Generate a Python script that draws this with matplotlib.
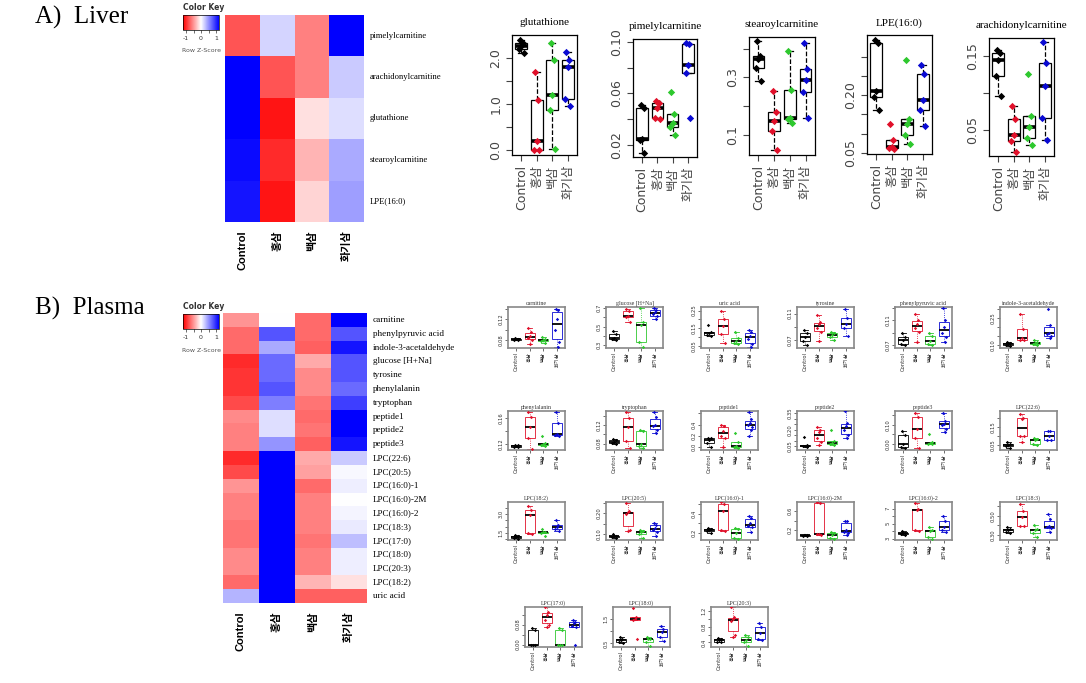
import numpy as np
import matplotlib.pyplot as plt
from matplotlib.colors import LinearSegmentedColormap, Normalize
from matplotlib.cm import ScalarMappable

plt.rcParams['font.family'] = ['DejaVu Sans', 'Noto Sans CJK KR']

W, H = 1086, 683

groups = ['Control', '홍삼', '백삼', '화기삼']
group_colors = ['black', '#e0102a', '#2ec82e', '#0a0ad2']

# heatmap z-scores (columns: Control, 홍삼, 백삼, 화기삼)
liver_rows = ['pimelylcarnitine', 'arachidonylcarnitine', 'glutathione',
              'stearoylcarnitine', 'LPE(16:0)']
liver_z = [[-0.80, 0.20, -0.60, 1.30],
           [1.30, -0.80, -0.60, 0.25],
           [1.20, -1.10, -0.15, 0.15],
           [1.15, -1.00, -0.35, 0.40],
           [1.10, -1.10, -0.20, 0.45]]

plasma_rows = ['carnitine', 'phenylpyruvic acid', 'indole-3-acetaldehyde',
               'glucose [H+Na]', 'tyrosine', 'phenylalanin', 'tryptophan',
               'peptide1', 'peptide2', 'peptide3', 'LPC(22:6)', 'LPC(20:5)',
               'LPC(16:0)-1', 'LPC(16:0)-2M', 'LPC(16:0)-2', 'LPC(18:3)',
               'LPC(17:0)', 'LPC(18:0)', 'LPC(20:3)', 'LPC(18:2)', 'uric acid']
plasma_z = [[-0.50, 0.00, -0.70, 1.40],
            [-0.70, 0.80, -0.70, 0.80],
            [-0.70, 0.40, -0.75, 1.10],
            [-1.00, 0.70, -0.40, 0.80],
            [-0.95, 0.70, -0.55, 0.80],
            [-0.95, 0.80, -0.55, 0.70],
            [-0.85, 0.60, -0.65, 0.90],
            [-0.55, 0.15, -0.70, 1.30],
            [-0.60, 0.15, -0.65, 1.30],
            [-0.60, 0.50, -0.75, 1.10],
            [-1.00, 1.30, -0.40, 0.25],
            [-0.85, 1.40, -0.45, 0.03],
            [-0.50, 1.40, -0.70, 0.08],
            [-0.60, 1.40, -0.60, 0.00],
            [-0.60, 1.40, -0.60, 0.05],
            [-0.65, 1.40, -0.60, 0.10],
            [-0.65, 1.30, -0.65, 0.30],
            [-0.55, 1.40, -0.60, 0.08],
            [-0.55, 1.40, -0.60, 0.08],
            [-0.70, 1.45, -0.35, -0.15],
            [0.35, 1.20, -0.75, -0.75]]

# liver box plot values per group
glutathione = [[2.40, 2.33, 2.26, 2.20, 2.11], [1.69, 1.10, 0.21, 0.0, 0.0],
               [2.33, 1.95, 1.20, 0.87, 0.02], [2.13, 1.96, 1.80, 1.12, 0.96]]
pimelylcarnitine = [[0.051, 0.049, 0.025, 0.024, 0.014], [0.054, 0.053, 0.049, 0.041, 0.040],
                    [0.061, 0.044, 0.037, 0.034, 0.028], [0.099, 0.098, 0.082, 0.076, 0.041]]
stearoylcarnitine = [[0.425, 0.373, 0.364, 0.333, 0.286], [0.251, 0.181, 0.147, 0.112, 0.048],
                     [0.390, 0.256, 0.160, 0.155, 0.140], [0.418, 0.330, 0.290, 0.248, 0.157]]
lpe160 = [[0.343, 0.334, 0.210, 0.196, 0.161], [0.124, 0.083, 0.066, 0.062, 0.060],
          [0.290, 0.139, 0.124, 0.096, 0.073], [0.277, 0.254, 0.187, 0.161, 0.120]]
arachidonylcarnitine = [[0.159, 0.155, 0.145, 0.124, 0.096], [0.083, 0.065, 0.044, 0.035, 0.021],
                        [0.126, 0.069, 0.054, 0.039, 0.030], [0.170, 0.141, 0.110, 0.067, 0.037]]

# plasma box plot values per group
carnitine = [[0.084, 0.082, 0.081, 0.080, 0.079], [0.104, 0.096, 0.088, 0.084, 0.080, 0.072],
             [0.086, 0.082, 0.080, 0.077, 0.074], [0.140, 0.138, 0.120, 0.100, 0.076, 0.066]]
glucose = [[0.45, 0.42, 0.38, 0.37, 0.36], [0.69, 0.67, 0.61, 0.60, 0.55],
           [0.70, 0.55, 0.52, 0.33, 0.28], [0.70, 0.68, 0.66, 0.64, 0.61, 0.58]]
uric_acid = [[0.17, 0.13, 0.125, 0.115, 0.11], [0.25, 0.20, 0.165, 0.12, 0.07],
             [0.13, 0.095, 0.08, 0.07, 0.06], [0.14, 0.13, 0.11, 0.09, 0.06, 0.045]]
tyrosine = [[0.085, 0.080, 0.075, 0.068, 0.062], [0.108, 0.097, 0.095, 0.088, 0.082, 0.068],
            [0.082, 0.080, 0.078, 0.075, 0.070], [0.117, 0.103, 0.095, 0.088, 0.076]]
phenylpyruvic = [[0.090, 0.083, 0.078, 0.072, 0.070], [0.120, 0.110, 0.104, 0.097, 0.091, 0.075],
                 [0.090, 0.085, 0.077, 0.073, 0.070], [0.130, 0.110, 0.100, 0.090, 0.083, 0.075]]
indole = [[0.12, 0.11, 0.105, 0.10, 0.095], [0.27, 0.19, 0.14, 0.13, 0.13],
          [0.13, 0.12, 0.115, 0.105, 0.10], [0.30, 0.21, 0.17, 0.16, 0.15, 0.14]]
phenylalanin = [[0.119, 0.118, 0.117, 0.116, 0.115], [0.169, 0.161, 0.147, 0.130, 0.112],
                [0.133, 0.122, 0.120, 0.118, 0.117], [0.169, 0.153, 0.135, 0.134, 0.132]]
tryptophan = [[0.090, 0.087, 0.083, 0.082, 0.080], [0.148, 0.135, 0.115, 0.085, 0.070],
              [0.110, 0.108, 0.080, 0.075, 0.070], [0.148, 0.137, 0.120, 0.117, 0.110, 0.103]]
peptide1 = [[0.17, 0.16, 0.13, 0.07, 0.0], [0.40, 0.38, 0.29, 0.20, 0.16, 0.0],
            [0.25, 0.09, 0.02, 0.0, -0.02], [0.63, 0.50, 0.42, 0.40, 0.35, 0.31, 0.20]]
peptide2 = [[0.13, 0.06, 0.055, 0.05, 0.04], [0.22, 0.20, 0.18, 0.12, 0.09, 0.06],
            [0.20, 0.10, 0.08, 0.07, 0.06], [0.37, 0.26, 0.23, 0.20, 0.15, 0.12]]
peptide3 = [[0.07, 0.045, 0.0, -0.015, -0.02], [0.16, 0.14, 0.08, 0.03, -0.02],
            [0.05, 0.01, 0.005, 0.0, 0.0], [0.16, 0.12, 0.105, 0.10, 0.08, 0.06]]
lpc226 = [[0.07, 0.06, 0.05, 0.045, 0.035], [0.22, 0.20, 0.19, 0.10, 0.10, 0.07],
          [0.09, 0.085, 0.08, 0.06, 0.05], [0.13, 0.125, 0.10, 0.08, 0.08]]
lpc182 = [[1.35, 1.30, 1.20, 1.10, 1.00], [3.6, 3.3, 2.9, 1.5, 1.4],
          [1.8, 1.6, 1.55, 1.5, 1.3], [2.5, 2.1, 2.0, 1.8, 1.7]]
lpc205 = [[0.10, 0.09, 0.088, 0.085, 0.08], [0.25, 0.21, 0.205, 0.195, 0.12, 0.115],
          [0.12, 0.115, 0.11, 0.10, 0.08], [0.155, 0.145, 0.13, 0.12, 0.11, 0.09]]
lpc160_1 = [[0.25, 0.24, 0.23, 0.22, 0.20], [0.52, 0.50, 0.43, 0.23, 0.22],
            [0.25, 0.24, 0.20, 0.15, 0.14], [0.38, 0.36, 0.30, 0.27, 0.26, 0.21]]
lpc160_2m = [[0.11, 0.10, 0.10, 0.09, 0.09], [0.77, 0.76, 0.13, 0.12, 0.11],
             [0.16, 0.14, 0.10, 0.04, 0.02], [0.40, 0.39, 0.20, 0.17, 0.15, 0.10]]
lpc160_2 = [[4.0, 3.8, 3.7, 3.6, 3.5], [7.8, 7.0, 6.8, 4.2, 4.0],
            [4.5, 4.2, 4.0, 3.2, 2.9], [6.0, 5.3, 4.6, 4.2, 3.9]]
lpc183 = [[0.38, 0.36, 0.35, 0.33, 0.32], [0.62, 0.55, 0.49, 0.39, 0.39],
          [0.40, 0.36, 0.35, 0.32, 0.28], [0.52, 0.47, 0.39, 0.38, 0.37, 0.33]]
lpc170 = [[0.065, 0.06, 0.0, 0.0, 0.0], [0.15, 0.13, 0.12, 0.10, 0.08, 0.07],
          [0.065, 0.06, 0.0, 0.0, 0.0], [0.10, 0.09, 0.085, 0.075, 0.07, 0.0]]
lpc180 = [[0.75, 0.70, 0.65, 0.55, 0.50], [1.95, 1.60, 1.50, 1.45, 0.70],
          [0.75, 0.70, 0.68, 0.55, 0.40], [1.20, 1.10, 0.95, 0.75, 0.60]]
lpc203 = [[0.52, 0.48, 0.45, 0.42, 0.40], [1.30, 1.05, 1.00, 0.95, 0.60, 0.55],
          [0.60, 0.55, 0.45, 0.40, 0.30], [0.90, 0.80, 0.65, 0.48, 0.45]]

# horizontal spread of the overlaid points
jitter = [-0.10, 0.10, 0.0, -0.15, 0.15, 0.05, -0.05]

cmap = LinearSegmentedColormap.from_list('rwb', ['#ff0000', '#ffffff', '#0000ff'])
norm = Normalize(-1.2, 1.2)
SERIF = ['Liberation Serif', 'Noto Sans CJK KR']
BOLD = ['Liberation Sans', 'Noto Sans CJK KR']

fig = plt.figure(figsize=(W / 100, H / 100), dpi=100)


def px_axes(x0, y0, x1, y1):
    return fig.add_axes([x0 / W, 1 - y1 / H, (x1 - x0) / W, (y1 - y0) / H])


def heatmap(z, rows, box, key_top, label_fs):
    x0, y0, x1, y1 = box
    ax = px_axes(x0, y0, x1, y1)
    ax.pcolormesh(np.array(z), cmap=cmap, norm=norm)
    ax.set_xlim(0, 4)
    ax.set_ylim(len(rows), 0)
    ax.axis('off')
    for i, name in enumerate(rows):
        ax.text(1.04, i + 0.5, name, transform=ax.get_yaxis_transform(),
                ha='left', va='center', fontsize=label_fs, family=SERIF)
    for j, g in enumerate(groups):
        ax.text(j + 0.5, -0.04 * 207 / (y1 - y0), g, transform=ax.get_xaxis_transform(),
                rotation=90, ha='center', va='top', fontsize=8, fontweight='bold',
                family=BOLD)
    # colour key
    cax = px_axes(183, key_top + 8, 219, key_top + 23)
    cb = fig.colorbar(ScalarMappable(norm, cmap), cax=cax, orientation='horizontal')
    cb.ax.xaxis.set_ticks([-1, -0.5, 0, 0.5, 1])
    cb.ax.set_xticklabels(['-1', '', '0', '', '1'])
    cb.ax.tick_params(length=2, width=0.5, labelsize=4.5, pad=2, colors='#333333')
    cb.outline.set_linewidth(0.5)
    fig.text(183 / W, 1 - key_top / H, 'Color Key', fontsize=5.5, fontweight='bold',
             va='center', color='#333333')
    fig.text(201 / W, 1 - (key_top + 44) / H, 'Row Z-Score', fontsize=4.5,
             ha='center', va='center', color='#555555')


def boxpanel(data, title, box, ylim, ticks, labels, small):
    ax = px_axes(*box)
    lw = 0.6 if small else 0.9
    for i, vals in enumerate(data):
        col = group_colors[i]
        edge = col if small else 'black'
        ax.boxplot([vals], positions=[i + 1], widths=0.75, showfliers=False,
                   patch_artist=True,
                   boxprops=dict(facecolor='white', edgecolor=edge, lw=lw),
                   medianprops=dict(color='black', lw=1.3 if small else 2.6),
                   whiskerprops=dict(color=edge, lw=lw, ls=':' if small else '--'),
                   capprops=dict(color=edge, lw=lw))
        xs = [i + 1 + jitter[k % len(jitter)] for k in range(len(vals))]
        ax.scatter(xs, vals, s=3 if small else 14, marker='D', color=col,
                   zorder=3, linewidths=0)
    ax.set_xlim(0.4, 4.6)
    ax.set_ylim(*ylim)
    ax.set_yticks(ticks)
    ax.set_yticklabels(labels, rotation=90, va='center')
    ax.set_xticks([1, 2, 3, 4])
    ax.set_xticklabels(groups, rotation=90)
    if small:
        ax.tick_params(length=2, width=0.5, labelsize=3.8, pad=1, colors='#333333')
        ax.set_title(title, fontsize=4.2, family=SERIF, pad=1.5, color='#333333')
        for s in ax.spines.values():
            s.set_color('#888888')
            s.set_linewidth(1.2)
    else:
        ax.tick_params(length=4, width=0.8, labelsize=9, pad=3, colors='#444444')
        ax.set_title(title, fontsize=8, family=SERIF, pad=7)
        for s in ax.spines.values():
            s.set_linewidth(0.9)


fig.text(35 / W, 1 - 17 / H, 'A)  Liver', fontsize=18, family=SERIF, va='center')
fig.text(35 / W, 1 - 308 / H, 'B)  Plasma', fontsize=18, family=SERIF, va='center')

heatmap(liver_z, liver_rows, (225, 15, 364, 222), 7, 6.2)
heatmap(plasma_z, plasma_rows, (223, 313, 367, 603), 306, 6.6)

boxpanel(glutathione, 'glutathione', (512, 35, 577, 155), (-0.1, 2.5),
         [0, 0.5, 1, 1.5, 2], ['0.0', '', '1.0', '', '2.0'], False)
boxpanel(pimelylcarnitine, 'pimelylcarnitine', (633, 39, 697, 157), (0.011, 0.102),
         [0.02, 0.04, 0.06, 0.08, 0.10], ['0.02', '', '0.06', '', '0.10'], False)
boxpanel(stearoylcarnitine, 'stearoylcarnitine', (749, 37, 815, 155), (0.03, 0.44),
         [0.1, 0.2, 0.3, 0.4], ['0.1', '', '0.3', ''], False)
boxpanel(lpe160, 'LPE(16:0)', (867, 35, 932, 154), (0.047, 0.356),
         [0.05, 0.10, 0.15, 0.20, 0.25, 0.30], ['0.05', '', '', '0.20', '', ''], False)
boxpanel(arachidonylcarnitine, 'arachidonylcarnitine', (989, 38, 1054, 156), (0.015, 0.175),
         [0.05, 0.10, 0.15], ['0.05', '', '0.15'], False)

cols = [508, 606, 701, 797, 895, 1000]
rows_y = [(307, 348), (411, 450), (502, 540)]
pw = 57
small_panels = [
    (carnitine, 'carnitine', (0.064, 0.144), [0.08, 0.10, 0.12, 0.14], ['0.08', '', '0.12', '']),
    (glucose, 'glucose [H+Na]', (0.27, 0.71), [0.3, 0.4, 0.5, 0.6, 0.7], ['0.3', '', '0.5', '', '0.7']),
    (uric_acid, 'uric acid', (0.04, 0.27), [0.05, 0.10, 0.15, 0.20, 0.25], ['0.05', '', '0.15', '', '0.25']),
    (tyrosine, 'tyrosine', (0.058, 0.12), [0.07, 0.09, 0.11], ['0.07', '', '0.11']),
    (phenylpyruvic, 'phenylpyruvic acid', (0.066, 0.131), [0.07, 0.09, 0.11, 0.13], ['0.07', '', '0.11', '']),
    (indole, 'indole-3-acetaldehyde', (0.085, 0.31), [0.10, 0.15, 0.20, 0.25, 0.30], ['0.10', '', '', '0.25', '']),
    (phenylalanin, 'phenylalanin', (0.111, 0.171), [0.12, 0.14, 0.16], ['0.12', '', '0.16']),
    (tryptophan, 'tryptophan', (0.066, 0.15), [0.08, 0.10, 0.12, 0.14], ['0.08', '', '0.12', '']),
    (peptide1, 'peptide1', (-0.05, 0.64), [0.0, 0.2, 0.4, 0.6], ['0.0', '0.2', '0.4', '']),
    (peptide2, 'peptide2', (0.015, 0.37), [0.05, 0.10, 0.15, 0.20, 0.25, 0.30, 0.35],
     ['0.05', '', '', '0.20', '', '', '0.35']),
    (peptide3, 'peptide3', (-0.03, 0.17), [0.0, 0.05, 0.10, 0.15], ['0.00', '', '0.10', '']),
    (lpc226, 'LPC(22:6)', (0.025, 0.235), [0.05, 0.10, 0.15, 0.20], ['0.05', '', '0.15', '']),
    (lpc182, 'LPC(18:2)', (0.95, 3.95), [1.0, 1.5, 2.0, 2.5, 3.0, 3.5], ['', '1.5', '', '', '3.0', '']),
    (lpc205, 'LPC(20:5)', (0.07, 0.255), [0.10, 0.15, 0.20, 0.25], ['0.10', '', '0.20', '']),
    (lpc160_1, 'LPC(16:0)-1', (0.13, 0.52), [0.2, 0.3, 0.4, 0.5], ['0.2', '', '0.4', '']),
    (lpc160_2m, 'LPC(16:0)-2M', (0.0, 0.78), [0.2, 0.4, 0.6], ['0.2', '', '0.6']),
    (lpc160_2, 'LPC(16:0)-2', (2.8, 7.9), [3, 4, 5, 6, 7], ['3', '', '5', '', '7']),
    (lpc183, 'LPC(18:3)', (0.25, 0.64), [0.30, 0.40, 0.50, 0.60], ['0.30', '', '0.50', '']),
]
for k, (d, t, yl, tk, lb) in enumerate(small_panels):
    r, c = divmod(k, 6)
    y0, y1 = rows_y[r]
    boxpanel(d, t, (cols[c], y0, cols[c] + pw, y1), yl, tk, lb, True)

last_row = [
    (lpc170, 'LPC(17:0)', (-0.01, 0.15), [0.0, 0.04, 0.08, 0.12], ['0.00', '', '0.08', '']),
    (lpc180, 'LPC(18:0)', (0.35, 2.0), [0.5, 1.0, 1.5], ['0.5', '', '1.5']),
    (lpc203, 'LPC(20:3)', (0.28, 1.31), [0.4, 0.6, 0.8, 1.0, 1.2], ['0.4', '', '0.8', '', '1.2']),
]
for x0, (d, t, yl, tk, lb) in zip([525, 613, 711], last_row):
    boxpanel(d, t, (x0, 607, x0 + pw, 647), yl, tk, lb, True)

fig.savefig('out.png', dpi=100)
